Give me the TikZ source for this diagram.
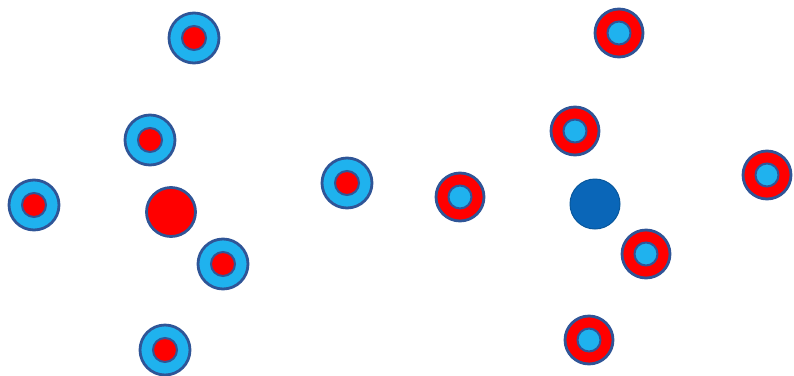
\documentclass[tikz,border=0pt]{standalone}
\definecolor{ringblue}{HTML}{1FB2EE}
\definecolor{redfill}{HTML}{FF0000}
\definecolor{edgeblue}{HTML}{2F5597}
\definecolor{darkfill}{HTML}{0A66B8}
\tikzset{
  outerB/.style={circle,draw=edgeblue,line width=2.8pt,fill=ringblue,minimum size=50pt,inner sep=0pt},
  outerR/.style={circle,draw=edgeblue,line width=2.8pt,fill=redfill,minimum size=48pt,inner sep=0pt},
  innerR/.style={circle,draw=edgeblue,line width=2pt,fill=redfill,minimum size=24pt,inner sep=0pt},
  innerB/.style={circle,draw=edgeblue,line width=2pt,fill=ringblue,minimum size=23pt,inner sep=0pt},
  bigR/.style={circle,draw=edgeblue,line width=2.8pt,fill=redfill,minimum size=49pt,inner sep=0pt},
  bigB/.style={circle,draw=darkfill!85!black,line width=1pt,fill=darkfill,minimum size=50pt,inner sep=0pt}
}
\begin{document}
\begin{tikzpicture}[x=1pt,y=-1pt]
\useasboundingbox (0,0) rectangle (794,375);
% left group
\foreach \n/\px/\py in {a1/194/38, a2/150/140, a3/34/205, a4/223/264, a5/165/350, a6/347/183}{
  \node[outerB] (\n) at (\px,\py) {};
  \node[innerR] (\n i) at (\px,\py) {};
}
\node[bigR] (redc) at (171,212) {};
% right group
\foreach \n/\px/\py in {b1/619/33, b2/575/131, b3/460/197, b4/767/175, b5/646/254, b6/589/340}{
  \node[outerR] (\n) at (\px,\py) {};
  \node[innerB] (\n i) at (\px,\py) {};
}
\node[bigB] (bluec) at (595,204) {};
\end{tikzpicture}
\end{document}
